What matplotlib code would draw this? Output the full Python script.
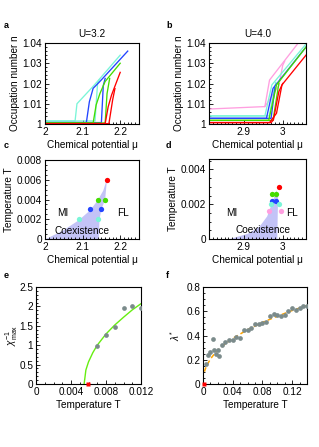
import matplotlib
matplotlib.use("Agg")
import matplotlib.pyplot as plt
from matplotlib.ticker import AutoMinorLocator, FuncFormatter, MultipleLocator

plt.rcParams['font.family'] = ['Liberation Sans', 'DejaVu Sans']
plt.rcParams['mathtext.fontset'] = 'custom'
plt.rcParams['mathtext.rm'] = 'Liberation Sans'
plt.rcParams['mathtext.it'] = 'Liberation Sans:italic'

# ---------------- data ----------------
# panel a (U=3.2): occupation vs chemical potential, two sweep branches per T
a_cyan1_x = [2.0, 2.08, 2.085, 2.13, 2.2]
a_cyan1_y = [1.0015, 1.0015, 1.010, 1.019, 1.034]
a_cyan2_x = [2.0, 2.133, 2.14, 2.145]
a_cyan2_y = [1.0015, 1.0015, 1.0205, 1.022]
a_blue1_x = [2.0, 2.11, 2.118, 2.128, 2.146, 2.22]
a_blue1_y = [1.0007, 1.0007, 1.011, 1.0176, 1.021, 1.036]
a_blue2_x = [2.0, 2.15, 2.155, 2.16]
a_blue2_y = [1.0007, 1.0007, 1.019, 1.0225]
a_green1_x = [2.0, 2.128, 2.136, 2.146, 2.16, 2.2]
a_green1_y = [1.0005, 1.0005, 1.0094, 1.015, 1.021, 1.030]
a_green2_x = [2.0, 2.16, 2.165, 2.172]
a_green2_y = [1.0005, 1.0005, 1.015, 1.0225]
a_red1_x = [2.0, 2.16, 2.168, 2.177, 2.2]
a_red1_y = [1.0002, 1.0002, 1.0085, 1.0143, 1.0255]
a_red2_x = [2.0, 2.17, 2.18, 2.186]
a_red2_y = [1.0002, 1.0002, 1.012, 1.0175]

# panel b (U=4.0)
b_pink1_x = [2.81, 2.954, 2.966, 3.04, 3.06]
b_pink1_y = [1.0074, 1.0086, 1.0217, 1.040, 1.045]
b_pink2_x = [2.954, 2.99, 3.0, 3.005]
b_pink2_y = [1.0086, 1.019, 1.029, 1.031]
b_cyan1_x = [2.81, 2.954, 2.972, 3.06]
b_cyan1_y = [1.0040, 1.0040, 1.0193, 1.0395]
b_cyan2_x = [2.81, 2.965, 2.982]
b_cyan2_y = [1.0040, 1.0040, 1.0205]
b_blue1_x = [2.81, 2.958, 2.975, 3.06]
b_blue1_y = [1.0028, 1.0028, 1.0176, 1.038]
b_blue2_x = [2.81, 2.97, 2.98]
b_blue2_y = [1.0028, 1.0028, 1.018]
b_green1_x = [2.81, 2.964, 2.984, 3.06]
b_green1_y = [1.0018, 1.0018, 1.0193, 1.038]
b_green2_x = [2.81, 2.975, 2.99]
b_green2_y = [1.0018, 1.0018, 1.020]
b_red1_x = [2.81, 2.966, 2.984, 2.998, 3.06]
b_red1_y = [1.0007, 1.0007, 1.0053, 1.0193, 1.034]
b_red2_x = [2.81, 2.97, 2.976, 2.99, 3.0]
b_red2_y = [1.0007, 1.0007, 1.002, 1.016, 1.020]

# panel c phase diagram U=3.2
c_shade_mu = [2.003, 2.05, 2.09, 2.12, 2.14, 2.155, 2.165, 2.16, 2.15, 2.145, 2.143]
c_shade_T = [0.0, 0.0009, 0.0019, 0.0029, 0.0039, 0.0049, 0.0061, 0.004, 0.003, 0.002, 0.0]
c_pts_mu = [2.165, 2.14, 2.16, 2.12, 2.15, 2.09, 2.14]
c_pts_T = [0.006, 0.004, 0.004, 0.003, 0.003, 0.002, 0.002]
c_pts_col = ['red', 'green', 'green', 'blue', 'blue', 'cyan', 'cyan']

# panel d phase diagram U=4.0
d_shade_mu = [2.864, 2.91, 2.94, 2.96, 2.97, 2.978, 2.984, 2.988, 2.987, 2.986]
d_shade_T = [0.0, 0.0003, 0.0007, 0.0013, 0.0019, 0.0024, 0.0028, 0.0024, 0.0012, 0.0]
d_pts_mu = [2.990, 2.972, 2.983, 2.972, 2.983, 2.969, 2.990, 2.964, 2.995]
d_pts_T = [0.003, 0.0026, 0.0026, 0.0022, 0.0022, 0.002, 0.002, 0.0016, 0.0016]
d_pts_col = ['red', 'green', 'green', 'blue', 'blue', 'cyan', 'cyan', 'pink', 'pink']

# panel e: inverse susceptibility
e_T = [0.007, 0.008, 0.009, 0.010, 0.011, 0.012]
e_chi = [0.98, 1.26, 1.48, 1.97, 2.00, 1.96]
e_fit_T = [0.0055, 0.0057, 0.006, 0.0065, 0.007, 0.008, 0.009, 0.010, 0.011, 0.012]
e_fit_y = [0.0, 0.36, 0.57, 0.81, 1.0, 1.29, 1.52, 1.72, 1.91, 2.07]
e_Tc = 0.0059

# panel f: lambda*
f_T = [0.004, 0.007, 0.010, 0.013, 0.015, 0.018, 0.020, 0.022, 0.025, 0.030,
       0.035, 0.040, 0.045, 0.050, 0.055, 0.060, 0.065, 0.070, 0.075, 0.080,
       0.085, 0.090, 0.095, 0.100, 0.105, 0.110, 0.115, 0.120, 0.125, 0.130,
       0.135, 0.140]
f_lam = [0.165, 0.24, 0.265, 0.37, 0.28, 0.25, 0.28, 0.235, 0.32, 0.345,
         0.36, 0.36, 0.385, 0.38, 0.445, 0.445, 0.465, 0.495, 0.495, 0.50,
         0.51, 0.56, 0.578, 0.57, 0.56, 0.57, 0.60, 0.625, 0.61, 0.625,
         0.64, 0.645]
f_fit_T = [0.002, 0.003, 0.005, 0.01, 0.015, 0.02, 0.03, 0.04, 0.06, 0.08, 0.10, 0.12, 0.14]
f_fit_y = [0.102, 0.122, 0.152, 0.206, 0.246, 0.278, 0.332, 0.376, 0.448, 0.508, 0.559, 0.606, 0.647]
f_Tc = 0.001

# ---------------- style ----------------
COL = {'cyan': '#7af5d8', 'blue': '#2244ff', 'green': '#44dd00',
       'red': '#ff0000', 'pink': '#ff9fe0'}
SHADE = '#c3c3f7'
GRAY = '#7b8b8b'
FS = 7.2
W, H = 319, 447

fig = plt.figure(figsize=(W / 100, H / 100), dpi=100)


def add_ax(x0, x1, y0, y1):
    return fig.add_axes([x0 / W, 1 - y1 / H, (x1 - x0) / W, (y1 - y0) / H])


def style(ax):
    ax.tick_params(which='both', direction='in', top=False, right=False,
                   labelsize=FS, pad=2, width=0.6)
    ax.tick_params(which='major', length=3)
    ax.tick_params(which='minor', length=1.6)
    for s in ax.spines.values():
        s.set_linewidth(0.8)
    fmt = FuncFormatter(lambda v, p: '%g' % round(v, 6))
    ax.xaxis.set_major_formatter(fmt)
    ax.yaxis.set_major_formatter(fmt)


lw = 0.95
axa = add_ax(45, 139, 43, 124)
for xs, ys, c in [(a_cyan1_x, a_cyan1_y, 'cyan'), (a_cyan2_x, a_cyan2_y, 'cyan'),
                  (a_blue1_x, a_blue1_y, 'blue'), (a_blue2_x, a_blue2_y, 'blue'),
                  (a_green1_x, a_green1_y, 'green'), (a_green2_x, a_green2_y, 'green'),
                  (a_red1_x, a_red1_y, 'red'), (a_red2_x, a_red2_y, 'red')]:
    axa.plot(xs, ys, color=COL[c], lw=lw)
axa.set_xlim(2.0, 2.25)
axa.set_ylim(1.0, 1.04)
axa.set_xticks([2.0, 2.1, 2.2])
axa.set_yticks([1.0, 1.01, 1.02, 1.03, 1.04])
axa.xaxis.set_minor_locator(MultipleLocator(0.01))
axa.yaxis.set_minor_locator(MultipleLocator(0.002))
style(axa)
axa.set_xlabel('Chemical potential μ', fontsize=FS, labelpad=2)
axa.set_ylabel('Occupation number n', fontsize=FS, labelpad=2)
axa.set_title('U=3.2', fontsize=FS, pad=4)

axb = add_ax(209, 306, 43, 124)
for xs, ys, c in [(b_pink1_x, b_pink1_y, 'pink'), (b_pink2_x, b_pink2_y, 'pink'),
                  (b_cyan1_x, b_cyan1_y, 'cyan'), (b_cyan2_x, b_cyan2_y, 'cyan'),
                  (b_blue1_x, b_blue1_y, 'blue'), (b_blue2_x, b_blue2_y, 'blue'),
                  (b_green1_x, b_green1_y, 'green'), (b_green2_x, b_green2_y, 'green'),
                  (b_red1_x, b_red1_y, 'red'), (b_red2_x, b_red2_y, 'red')]:
    axb.plot(xs, ys, color=COL[c], lw=lw)
axb.set_xlim(2.81, 3.06)
axb.set_ylim(1.0, 1.04)
axb.set_xticks([2.9, 3.0])
axb.set_yticks([1.0, 1.01, 1.02, 1.03, 1.04])
axb.xaxis.set_minor_locator(MultipleLocator(0.01))
axb.yaxis.set_minor_locator(MultipleLocator(0.002))
style(axb)
axb.set_xlabel('Chemical potential μ', fontsize=FS, labelpad=2)
axb.set_ylabel('Occupation number n', fontsize=FS, labelpad=2)
axb.set_title('U=4.0', fontsize=FS, pad=4)

ms = 3.8
axc = add_ax(45, 139, 160, 239)
axc.fill(c_shade_mu, c_shade_T, color=SHADE, lw=0)
for m, t, c in zip(c_pts_mu, c_pts_T, c_pts_col):
    axc.plot(m, t, 'o', color=COL[c], ms=ms, mec='none')
axc.set_xlim(2.0, 2.25)
axc.set_ylim(0, 0.008)
axc.set_xticks([2.0, 2.1, 2.2])
axc.set_yticks([0, 0.002, 0.004, 0.006, 0.008])
axc.xaxis.set_minor_locator(MultipleLocator(0.01))
axc.yaxis.set_minor_locator(AutoMinorLocator(4))
style(axc)
axc.text(2.048, 0.0026, 'MI', fontsize=FS, ha='center', va='center')
axc.text(2.207, 0.0026, 'FL', fontsize=FS, ha='center', va='center')
axc.text(2.098, 0.00085, 'Coexistence', fontsize=FS, ha='center', va='center')
axc.set_xlabel('Chemical potential μ', fontsize=FS, labelpad=2)
axc.set_ylabel('Temperature T', fontsize=FS, labelpad=2)

axd = add_ax(209, 306, 159, 239)
axd.fill(d_shade_mu, d_shade_T, color=SHADE, lw=0)
for m, t, c in zip(d_pts_mu, d_pts_T, d_pts_col):
    axd.plot(m, t, 'o', color=COL[c], ms=ms, mec='none')
axd.set_xlim(2.81, 3.06)
axd.set_ylim(0, 0.0046)
axd.set_xticks([2.9, 3.0])
axd.set_yticks([0, 0.002, 0.004])
axd.xaxis.set_minor_locator(MultipleLocator(0.01))
axd.yaxis.set_minor_locator(AutoMinorLocator(4))
style(axd)
axd.text(2.868, 0.0015, 'MI', fontsize=FS, ha='center', va='center')
axd.text(3.025, 0.0015, 'FL', fontsize=FS, ha='center', va='center')
axd.text(2.95, 0.0005, 'Coexistence', fontsize=FS, ha='center', va='center')
axd.set_xlabel('Chemical potential μ', fontsize=FS, labelpad=2)
axd.set_ylabel('Temperature T', fontsize=FS, labelpad=2)

axe = add_ax(36, 141, 287, 384)
axe.plot(e_fit_T, e_fit_y, color='#66ee11', lw=1.0, zorder=2)
axe.plot(e_T, e_chi, 'o', color=GRAY, ms=3.4, mec='none', zorder=3)
axe.plot([e_Tc], [0], 's', color='#ff0000', ms=3.2, mec='none', clip_on=False, zorder=4)
axe.set_xlim(0, 0.012)
axe.set_ylim(0, 2.5)
axe.set_xticks([0, 0.004, 0.008, 0.012])
axe.set_yticks([0, 0.5, 1, 1.5, 2, 2.5])
axe.xaxis.set_minor_locator(AutoMinorLocator(4))
axe.yaxis.set_minor_locator(AutoMinorLocator(5))
style(axe)
axe.set_xlabel('Temperature T', fontsize=FS, labelpad=2)
axe.set_ylabel(r'$\chi_{\mathrm{max}}^{-1}$', fontsize=FS)
axe.yaxis.set_label_coords(-0.15, 0.5)

axf = add_ax(203, 307, 287, 384)
axf.plot(f_fit_T, f_fit_y, color='#ffa500', lw=1.1, ls=(0, (3, 2)), zorder=2)
axf.plot(f_T, f_lam, 'o', color=GRAY, ms=3.4, mec='none', zorder=3)
axf.plot([f_Tc], [0], 's', color='#ff0000', ms=3.2, mec='none', clip_on=False, zorder=4)
axf.set_xlim(0, 0.14)
axf.set_ylim(0, 0.8)
axf.set_xticks([0, 0.04, 0.08, 0.12])
axf.set_yticks([0, 0.2, 0.4, 0.6, 0.8])
axf.xaxis.set_minor_locator(AutoMinorLocator(4))
axf.yaxis.set_minor_locator(AutoMinorLocator(4))
style(axf)
axf.set_xlabel('Temperature T', fontsize=FS, labelpad=2)
axf.set_ylabel(r'$\lambda^{*}$', fontsize=FS, labelpad=3)

for lab, x, y in [('a', 4, 25), ('b', 166, 25), ('c', 4, 146), ('d', 166, 146),
                  ('e', 4, 275), ('f', 166, 275)]:
    fig.text(x / W, 1 - y / H, lab, fontsize=6.5, fontweight='bold',
             ha='left', va='center')

fig.savefig('out.png', dpi=100)
